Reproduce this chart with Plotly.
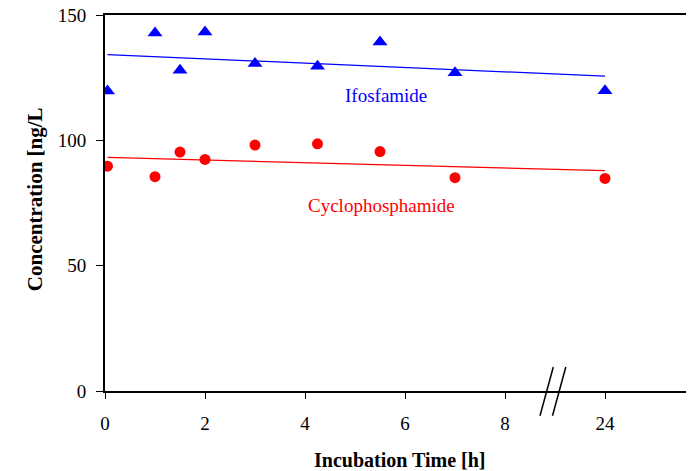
import plotly.graph_objects as go

# Data
time_h = [0.05, 1, 1.5, 2, 3, 4.25, 5.5, 7, 24]
ifosfamide = [119.7, 142.8, 128.0, 143.2, 130.7, 129.6, 139.2, 127.0, 119.8]
cyclophosphamide = [89.7, 85.5, 95.3, 92.4, 98.1, 98.6, 95.5, 85.1, 84.8]

fit_time = [0.05, 24]
ifos_fit = [134.2, 125.6]
cyclo_fit = [93.2, 87.9]

tick_hours = [0, 2, 4, 6, 8, 24]
y_ticks = [0, 50, 100, 150]

BREAK_POS = 10  # axis position where 24 h is drawn (broken axis)


def to_axis(h):
    return h if h <= 8 else BREAK_POS


BLUE = "#0000FF"
RED = "#FF0000"
FONT = "Liberation Serif"

fig = go.Figure()
fig.add_trace(go.Scatter(x=[to_axis(t) for t in fit_time], y=ifos_fit, mode="lines",
                         line=dict(color=BLUE, width=1.3), showlegend=False))
fig.add_trace(go.Scatter(x=[to_axis(t) for t in fit_time], y=cyclo_fit, mode="lines",
                         line=dict(color=RED, width=1.3), showlegend=False))
fig.add_trace(go.Scatter(x=[to_axis(t) for t in time_h], y=ifosfamide, mode="markers",
                         marker=dict(symbol="triangle-up", size=13, color=BLUE),
                         showlegend=False))
fig.add_trace(go.Scatter(x=[to_axis(t) for t in time_h], y=cyclophosphamide, mode="markers",
                         marker=dict(symbol="circle", size=11, color=RED),
                         showlegend=False))

fig.add_annotation(x=5.62, y=117.7, text="Ifosfamide", showarrow=False,
                   font=dict(family=FONT, size=19, color=BLUE))
fig.add_annotation(x=5.52, y=74.2, text="Cyclophosphamide", showarrow=False,
                   font=dict(family=FONT, size=19, color=RED))

# axis titles
fig.add_annotation(xref="paper", yref="paper", x=0.5, y=-0.184, yanchor="middle",
                   text="<b>Incubation Time [h]</b>", showarrow=False,
                   font=dict(family=FONT, size=20, color="black"))
fig.add_annotation(xref="paper", yref="paper", x=-0.119, xanchor="center",
                   y=0.51, yanchor="middle", textangle=-90,
                   text="<b>Concentration [ng/L</b>", showarrow=False,
                   font=dict(family=FONT, size=21, color="black"))

# axis break marks
for dx in (0, 0.25):
    fig.add_shape(type="line", xref="x", yref="paper",
                  x0=8.966 + dx, y0=0.064, x1=8.70 + dx, y1=-0.066,
                  line=dict(color="black", width=1.5))

fig.update_xaxes(range=[0, 11.78], tickvals=[to_axis(t) for t in tick_hours],
                 ticktext=[str(t) for t in tick_hours],
                 showline=True, linecolor="black", linewidth=1.5, mirror=True,
                 ticks="outside", ticklen=6, tickwidth=1.2, tickcolor="black",
                 ticklabelstandoff=8, ticklabeloverflow="allow", automargin=False,
                 showgrid=False, zeroline=False,
                 tickfont=dict(family=FONT, size=19, color="black"))
fig.update_yaxes(range=[0, 150], tickvals=y_ticks,
                 showline=True, linecolor="black", linewidth=2,
                 ticks="outside", ticklen=7, tickwidth=1.2, tickcolor="black",
                 ticklabelstandoff=6, ticklabeloverflow="allow", automargin=False,
                 showgrid=False, zeroline=False,
                 tickfont=dict(family=FONT, size=19, color="black"))

# page body has an 8px margin; compensate so the plot area lands where the reference has it
fig.update_layout(width=694, height=471, margin=dict(l=97, r=8, t=7, b=88, autoexpand=False),
                  plot_bgcolor="white", paper_bgcolor="white",
                  font=dict(family=FONT))

fig.write_html("out.html")
